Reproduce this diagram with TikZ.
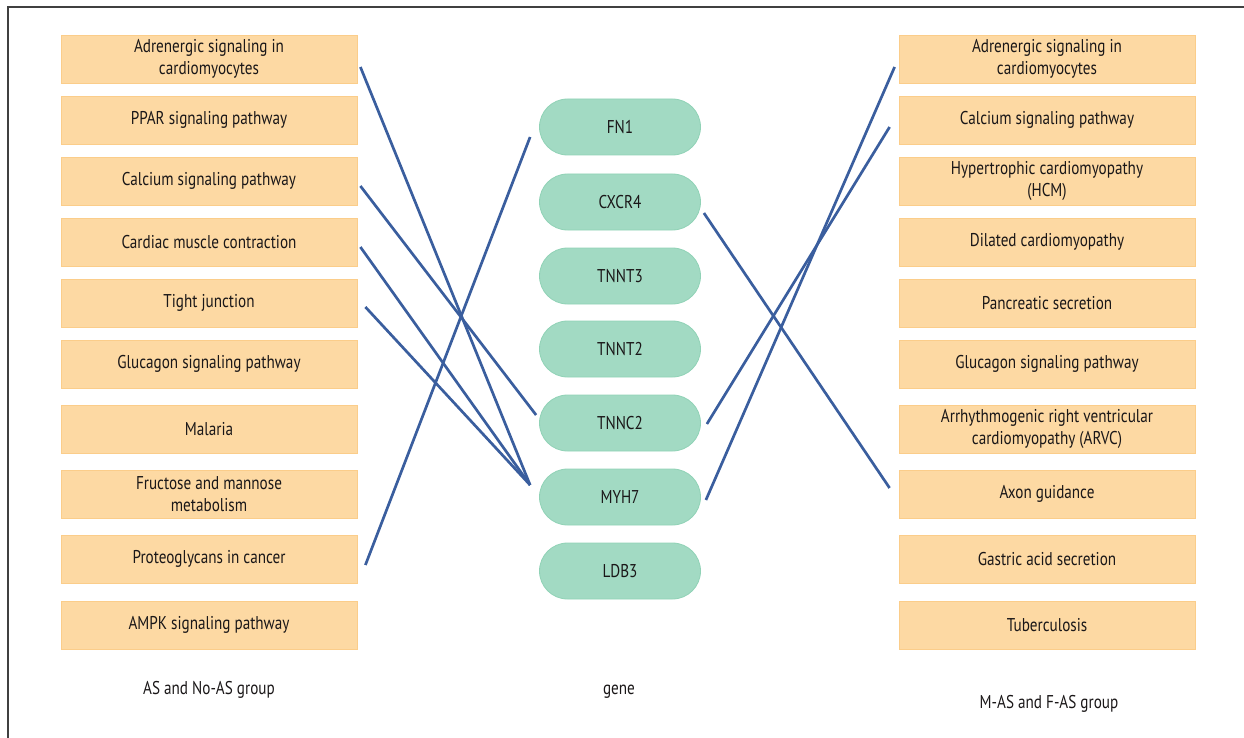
\documentclass[tikz,border=0pt]{standalone}
\usepackage{fontspec}
\setmainfont[FakeStretch=0.82]{PT Sans}
\definecolor{boxfill}{HTML}{FDD9A3}
\definecolor{boxline}{HTML}{FBCD8A}
\definecolor{genefill}{HTML}{A2DAC3}
\definecolor{geneline}{HTML}{90D2B6}
\definecolor{linkblue}{HTML}{3A5E9E}
\definecolor{txt}{HTML}{1A1718}
\begin{document}
\begin{tikzpicture}
[x=1pt,y=-1pt,%
  every node/.style={text=txt,font=\fontsize{18.5}{21.5}\selectfont,align=center},%
  pathbox/.style={rectangle,fill=boxfill,draw=boxline,line width=0.8pt,
    minimum width=296pt,minimum height=48pt,inner sep=0pt},%
  genebox/.style={rectangle,rounded corners=28pt,fill=genefill,draw=geneline,
    line width=0.8pt,minimum width=161pt,minimum height=56pt,inner sep=0pt},%
  link/.style={linkblue,line width=2.7pt}]
\useasboundingbox (0,0) rectangle (1244,738);
\draw[black!75,line width=1.3pt] (8,738) -- (8,7) -- (1244,7);
% left column
\node[pathbox] (l1) at (209,59) {Adrenergic signaling in\\cardiomyocytes};
\node[pathbox] (l2) at (209,120) {PPAR signaling pathway};
\node[pathbox] (l3) at (209,181) {Calcium signaling pathway};
\node[pathbox] (l4) at (209,242) {Cardiac muscle contraction};
\node[pathbox] (l5) at (209,303) {Tight junction};
\node[pathbox] (l6) at (209,364) {Glucagon signaling pathway};
\node[pathbox] (l7) at (209,429) {Malaria};
\node[pathbox] (l8) at (209,494) {Fructose and mannose\\metabolism};
\node[pathbox] (l9) at (209,559) {Proteoglycans in cancer};
\node[pathbox] (l10) at (209,625) {AMPK signaling pathway};
% genes
\node[genebox] (fn1) at (620,127) {FN1};
\node[genebox] (cxcr4) at (620,202) {CXCR4};
\node[genebox] (tnnt3) at (620,276) {TNNT3};
\node[genebox] (tnnt2) at (620,349) {TNNT2};
\node[genebox] (tnnc2) at (620,423) {TNNC2};
\node[genebox] (myh7) at (620,497) {MYH7};
\node[genebox] (ldb3) at (620,571) {LDB3};
% right column
\node[pathbox] (r1) at (1047,59) {Adrenergic signaling in\\cardiomyocytes};
\node[pathbox] (r2) at (1047,120) {Calcium signaling pathway};
\node[pathbox] (r3) at (1047,181) {Hypertrophic cardiomyopathy\\(HCM)};
\node[pathbox] (r4) at (1047,242) {Dilated cardiomyopathy};
\node[pathbox] (r5) at (1047,303) {Pancreatic secretion};
\node[pathbox] (r6) at (1047,364) {Glucagon signaling pathway};
\node[pathbox] (r7) at (1047,429) {Arrhythmogenic right ventricular\\cardiomyopathy (ARVC)};
\node[pathbox] (r8) at (1047,494) {Axon guidance};
\node[pathbox] (r9) at (1047,559) {Gastric acid secretion};
\node[pathbox] (r10) at (1047,625) {Tuberculosis};
% group labels
\node (leftlab) at (209,690) {AS and No-AS group};
\node (genelab) at (619,692) {gene};
\node (rightlab) at (1049,704) {M-AS and F-AS group};
% links
\draw[link] ([xshift=3pt,yshift=-8pt]l1.east) -- ([xshift=-9pt,yshift=12pt]myh7.west);
\draw[link] ([xshift=3pt,yshift=-5pt]l3.east) -- ([xshift=-3pt,yshift=8pt]tnnc2.west);
\draw[link] ([xshift=3pt,yshift=-5pt]l4.east) -- ([xshift=-9pt,yshift=12pt]myh7.west);
\draw[link] ([xshift=8pt,yshift=-4pt]l5.east) -- ([xshift=-9pt,yshift=12pt]myh7.west);
\draw[link] ([xshift=8pt,yshift=-6pt]l9.east) -- ([xshift=-9pt,yshift=-10pt]fn1.west);
\draw[link] ([xshift=-4pt,yshift=-8pt]r1.west) -- ([xshift=5pt,yshift=-3pt]myh7.east);
\draw[link] ([xshift=-9pt,yshift=-7pt]r2.west) -- ([xshift=6pt,yshift=-1pt]tnnc2.east);
\draw[link] ([xshift=3pt,yshift=-11pt]cxcr4.east) -- ([xshift=-9pt,yshift=6pt]r8.west);
\end{tikzpicture}
\end{document}
